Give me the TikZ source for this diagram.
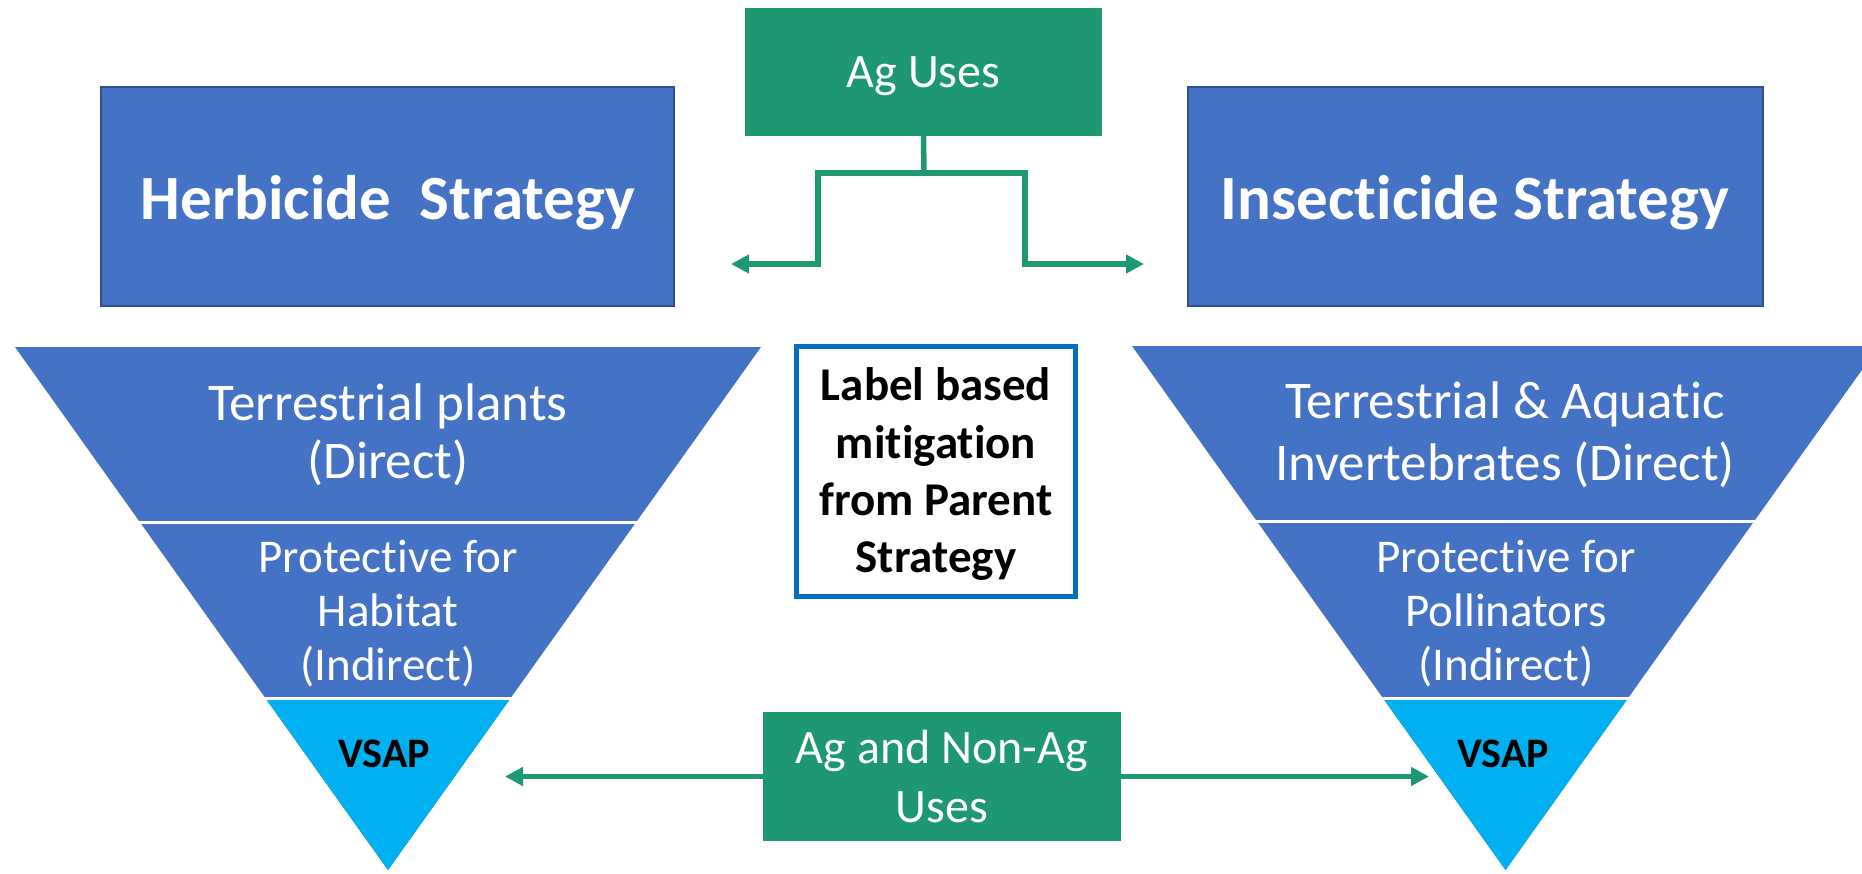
\documentclass[tikz,border=0pt]{standalone}
\usepackage{fontspec}
\setmainfont{Carlito}[Ligatures={NoCommon}]
\usetikzlibrary{arrows.meta}
\definecolor{boxblue}{HTML}{4472C4}
\definecolor{boxedge}{HTML}{2F528F}
\definecolor{vsapblue}{HTML}{00B0F0}
\definecolor{aggreen}{RGB}{30,152,114}
\definecolor{labelblue}{HTML}{0070C0}
\begin{document}
\begin{tikzpicture}[x=1pt,y=-1pt,
  strat/.style={draw=boxedge, line width=2.5pt, fill=boxblue, inner sep=0pt},
  greenbox/.style={fill=aggreen, inner sep=0pt},
  txt/.style={text=white, inner sep=0pt, anchor=base},
  blacktxt/.style={text=black, inner sep=0pt, anchor=base},
  conn/.style={draw=aggreen, line width=5.5pt},
  arr/.style={conn, -{Triangle[length=18pt,width=18pt]}},
  divider/.style={draw=white, line width=3pt},
]
\useasboundingbox (0,0) rectangle (1862,873);

% strategy boxes
\node[strat, minimum width=573pt, minimum height=219pt] (herb) at (387.5,196.5) {};
\node[strat, minimum width=575pt, minimum height=219pt] (insect) at (1475.5,196.5) {};
\node[txt, font=\fontsize{63}{63}\selectfont\bfseries] (herbT) at (388,219) {Herbicide\ \ Strategy};
\node[txt, font=\fontsize{63}{63}\selectfont\bfseries] (insectT) at (1475,219) {Insecticide Strategy};

% Ag Uses box and connectors
\node[greenbox, minimum width=357pt, minimum height=128pt] (agU) at (923.5,72) {};
\node[txt, font=\fontsize{48}{48}\selectfont] (agUT) at (923.5,87) {Ag Uses};
\coordinate (junc) at (924,173);
\coordinate (lbend) at (818,264);
\coordinate (ltip) at (731,264);
\coordinate (rbend) at (1025,264);
\coordinate (rtip) at (1144,264);
\draw[conn] (agU.south) -- (junc);
\draw[arr] (junc) -| (lbend) -- (ltip);
\draw[arr] (junc) -| (rbend) -- (rtip);

% left funnel
\fill[boxblue] (15,347) -- (761,347) -- (388,870) -- cycle;
\fill[vsapblue] (265.3,698) -- (510.7,698) -- (388,870) -- cycle;
\draw[divider] (135,522) -- (641,522);
\draw[divider] (260,698) -- (516,698);
\node[txt, font=\fontsize{53}{53}\selectfont] (lt1) at (388,420) {Terrestrial plants};
\node[txt, font=\fontsize{53}{53}\selectfont] (lt2) at (388,478) {(Direct)};
\node[txt, font=\fontsize{47}{47}\selectfont] (lm1) at (388,572) {Protective for};
\node[txt, font=\fontsize{47}{47}\selectfont] (lm2) at (388,626) {Habitat};
\node[txt, font=\fontsize{47}{47}\selectfont] (lm3) at (388,680) {(Indirect)};
\node[blacktxt, font=\fontsize{42}{42}\selectfont\bfseries] (lv) at (384,767) {VSAP};

% right funnel
\fill[boxblue] (1132,346) -- (1879,346) -- (1505.5,870) -- cycle;
\fill[vsapblue] (1382.9,698) -- (1628.1,698) -- (1505.5,870) -- cycle;
\draw[divider] (1252,521) -- (1759,521);
\draw[divider] (1378,698) -- (1633,698);
\node[txt, font=\fontsize{53}{53}\selectfont] (rt1) at (1505,418) {Terrestrial \& Aquatic};
\node[txt, font=\fontsize{53}{53}\selectfont] (rt2) at (1505,480) {Invertebrates (Direct)};
\node[txt, font=\fontsize{47}{47}\selectfont] (rm1) at (1506,572) {Protective for};
\node[txt, font=\fontsize{47}{47}\selectfont] (rm2) at (1506,626) {Pollinators};
\node[txt, font=\fontsize{47}{47}\selectfont] (rm3) at (1506,680) {(Indirect)};
\node[blacktxt, font=\fontsize{42}{42}\selectfont\bfseries] (rv) at (1503,767) {VSAP};

% label box
\node[draw=labelblue, line width=5pt, fill=white, inner sep=0pt, minimum width=279pt, minimum height=250pt] (lbl) at (936,471.5) {};
\node[blacktxt, font=\fontsize{47}{47}\selectfont\bfseries] (lb1) at (936,400) {Label based};
\node[blacktxt, font=\fontsize{47}{47}\selectfont\bfseries] (lb2) at (936,458) {mitigation};
\node[blacktxt, font=\fontsize{47}{47}\selectfont\bfseries] (lb3) at (936,515) {from Parent};
\node[blacktxt, font=\fontsize{47}{47}\selectfont\bfseries] (lb4) at (936,572) {Strategy};

% Ag and Non-Ag box and arrows
\node[greenbox, minimum width=358pt, minimum height=129pt] (agN) at (942,776.5) {};
\node[txt, font=\fontsize{48}{48}\selectfont] (agNT1) at (942,763) {Ag and Non-Ag};
\node[txt, font=\fontsize{48}{48}\selectfont] (agNT2) at (942,822) {Uses};
\coordinate (nltip) at (505,776.5);
\coordinate (nrtip) at (1429,776.5);
\draw[arr] (agN.west) -- (nltip);
\draw[arr] (agN.east) -- (nrtip);
\end{tikzpicture}
\end{document}
